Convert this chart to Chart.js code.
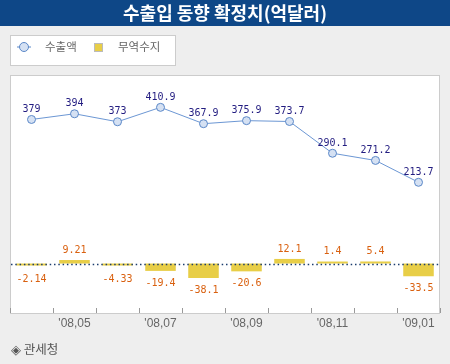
<!DOCTYPE html>
<html>
<head>
<meta charset="utf-8">
<script src="https://cdn.jsdelivr.net/npm/chart.js@4/dist/chart.umd.min.js"></script>
<style>
  html, body { margin: 0; padding: 0; background: #eeeeee; }
  #wrap { width: 450px; height: 364px; position: relative; }
  canvas { display: block; }
</style>
</head>
<body>
<div id="wrap"><canvas id="tradeChart" width="450" height="364"></canvas></div>
<script>
// 월별 카테고리 / 데이터
const months = ["'08,04", "'08,05", "'08,06", "'08,07", "'08,08", "'08,09", "'08,10", "'08,11", "'08,12", "'09,01"];
const exportValues = [379, 394, 373, 410.9, 367.9, 375.9, 373.7, 290.1, 271.2, 213.7];
const balanceValues = [-2.14, 9.21, -4.33, -19.4, -38.1, -20.6, 12.1, 1.4, 5.4, -33.5];
const exportLabels = ['379', '394', '373', '410.9', '367.9', '375.9', '373.7', '290.1', '271.2', '213.7'];
const balanceLabels = ['-2.14', '9.21', '-4.33', '-19.4', '-38.1', '-20.6', '12.1', '1.4', '5.4', '-33.5'];

const KR = '"Noto Sans CJK KR", sans-serif';
const MONO = '"DejaVu Sans Mono", monospace';

// 배경, 제목, 범례, 출처
const framePlugin = {
  id: 'frame',
  beforeDraw(chart) {
    const ctx = chart.ctx;
    const a = chart.chartArea;
    ctx.save();
    ctx.fillStyle = '#eeeeee';
    ctx.fillRect(0, 0, chart.width, chart.height);
    // 제목 바
    ctx.fillStyle = '#0e4787';
    ctx.fillRect(0, 0, chart.width, 26);
    ctx.fillStyle = '#ffffff';
    ctx.font = 'bold 18px ' + KR;
    ctx.textAlign = 'center';
    ctx.textBaseline = 'middle';
    ctx.fillText('수출입 동향 확정치(억달러)', 225, 13.5);
    // 범례 상자
    ctx.fillStyle = '#ffffff';
    ctx.fillRect(10.5, 35.5, 165, 30);
    ctx.strokeStyle = '#cccccc';
    ctx.lineWidth = 1;
    ctx.strokeRect(10.5, 35.5, 165, 30);
    // 수출액 마커
    ctx.strokeStyle = '#5b88c8';
    ctx.beginPath();
    ctx.moveTo(17, 47); ctx.lineTo(31, 47);
    ctx.stroke();
    ctx.beginPath();
    ctx.arc(24, 47, 4.5, 0, Math.PI * 2);
    ctx.fillStyle = '#d5e1f3';
    ctx.fill();
    ctx.stroke();
    // 무역수지 마커
    ctx.fillStyle = '#e8ce47';
    ctx.fillRect(94.5, 43.5, 8, 8);
    ctx.strokeStyle = '#bbbbbb';
    ctx.strokeRect(94.5, 43.5, 8, 8);
    ctx.fillStyle = '#666666';
    ctx.font = '11.5px ' + KR;
    ctx.textAlign = 'left';
    ctx.fillText(chart.data.datasets[0].label, 45, 47);
    ctx.fillText(chart.data.datasets[1].label, 118, 47);
    // 그래프 영역
    ctx.fillStyle = '#ffffff';
    ctx.fillRect(a.left, a.top, a.right - a.left, a.bottom + 5 - a.top);
    ctx.strokeStyle = '#cccccc';
    ctx.strokeRect(a.left + 0.5, a.top + 0.5, a.right - a.left - 1, a.bottom + 5 - a.top);
    // 출처
    ctx.fillStyle = '#555555';
    ctx.font = '12.5px ' + KR;
    ctx.textBaseline = 'middle';
    ctx.fillText('◈ 관세청', 11, 349);
    ctx.restore();
  },
  afterDatasetsDraw(chart) {
    const ctx = chart.ctx;
    const a = chart.chartArea;
    const y0 = Math.round(chart.scales.y.getPixelForValue(0)) + 0.5;
    ctx.save();
    // 0 기준 점선
    ctx.strokeStyle = '#1b3c6e';
    ctx.lineWidth = 1.5;
    ctx.setLineDash([1.5, 2.8]);
    ctx.beginPath();
    ctx.moveTo(a.left + 1, y0);
    ctx.lineTo(a.right - 1, y0);
    ctx.stroke();
    ctx.setLineDash([]);
    // 데이터 라벨
    ctx.font = '10px ' + MONO;
    ctx.textAlign = 'center';
    ctx.textBaseline = 'middle';
    const lineMeta = chart.getDatasetMeta(0);
    ctx.fillStyle = '#221c80';
    lineMeta.data.forEach((pt, i) => {
      ctx.fillText(exportLabels[i], pt.x, pt.y - 10);
    });
    const barMeta = chart.getDatasetMeta(1);
    ctx.fillStyle = '#d9600f';
    barMeta.data.forEach((bar, i) => {
      if (balanceValues[i] >= 0) {
        ctx.fillText(balanceLabels[i], bar.x, Math.min(bar.y, y0 - 2) - 10);
      } else {
        ctx.fillText(balanceLabels[i], bar.x, Math.max(bar.y, y0 + 2) + 12.5);
      }
    });
    ctx.restore();
  }
};

new Chart(document.getElementById('tradeChart'), {
  data: {
    labels: months,
    datasets: [
      {
        type: 'line',
        label: '수출액',
        data: exportValues,
        borderColor: '#6c97d4',
        borderWidth: 1,
        pointRadius: 4,
        pointBackgroundColor: '#d5e1f3',
        pointBorderColor: '#5b88c8',
        pointBorderWidth: 1,
        tension: 0,
        order: 0
      },
      {
        type: 'bar',
        label: '무역수지',
        data: balanceValues,
        backgroundColor: '#e8ce47',
        borderWidth: 0,
        barPercentage: 0.71,
        categoryPercentage: 1.0,
        minBarLength: 2,
        order: 1
      }
    ]
  },
  options: {
    responsive: false,
    animation: false,
    devicePixelRatio: 1,
    layout: { padding: { left: 10, right: 10, top: 75, bottom: 0 } },
    plugins: {
      legend: { display: false },
      tooltip: { enabled: false }
    },
    scales: {
      x: {
        offset: true,
        grid: {
          offset: true,
          drawOnChartArea: false,
          drawTicks: true,
          tickLength: 5,
          color: '#999999'
        },
        border: { display: false },
        ticks: {
          autoSkip: false,
          maxRotation: 0,
          padding: 3,
          color: '#666666',
          font: { family: '"Liberation Sans", Arial, sans-serif', size: 12 },
          callback: function (value, index) {
            return index % 2 === 1 ? months[index] : '';
          }
        },
        afterFit: function (scale) {
          scale.height = 56;
        }
      },
      y: {
        display: false,
        min: -117,
        max: 496
      }
    }
  },
  plugins: [framePlugin]
});
</script>
</body>
</html>
